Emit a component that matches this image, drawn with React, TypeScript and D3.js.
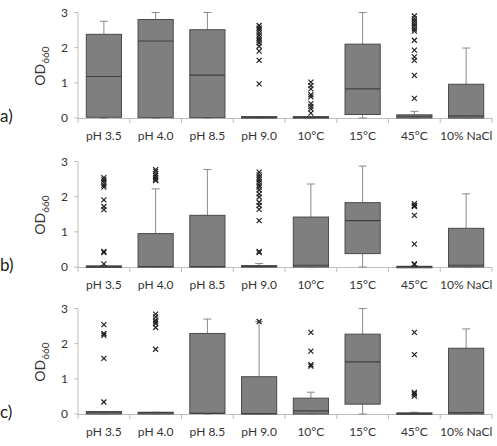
import * as d3 from "d3";

const categories = ["pH 3.5", "pH 4.0", "pH 8.5", "pH 9.0", "10°C", "15°C", "45°C", "10% NaCl"];
const panelNames = ["a)", "b)", "c)"];
const yTicks = [0, 1, 2, 3];

// panel a
const aLow = [0, 0, 0, 0, 0, 0, 0, 0];
const aQ1 = [0.02, 0.01, 0.01, 0, 0, 0.1, 0, 0];
const aMedian = [1.18, 2.19, 1.22, 0.02, 0.02, 0.83, 0.05, 0.06];
const aQ3 = [2.38, 2.8, 2.51, 0.04, 0.04, 2.1, 0.09, 0.96];
const aHigh = [2.75, 3.0, 3.0, 0.04, 0.04, 3.0, 0.19, 1.99];
const aOut = [
  [],
  [],
  [],
  [2.63, 2.56, 2.5, 2.42, 2.35, 2.28, 2.21, 2.14, 2.04, 1.9, 1.64, 0.97],
  [1.02, 0.92, 0.83, 0.66, 0.6, 0.41, 0.33, 0.26, 0.14],
  [],
  [2.9, 2.82, 2.75, 2.68, 2.61, 2.53, 2.47, 2.21, 1.93, 1.74, 1.64, 1.21, 0.56],
  [],
];

// panel b
const bLow = [0, 0, 0, 0, 0, 0, 0, 0];
const bQ1 = [0, 0, 0, 0, 0, 0.38, 0, 0];
const bMedian = [0.02, 0.01, 0.01, 0.02, 0.05, 1.32, 0.01, 0.05];
const bQ3 = [0.03, 0.95, 1.47, 0.04, 1.42, 1.83, 0.02, 1.1];
const bHigh = [0.03, 2.22, 2.77, 0.1, 2.36, 2.87, 0.02, 2.08];
const bOut = [
  [2.54, 2.48, 2.41, 2.33, 2.27, 1.91, 1.72, 1.63, 0.44, 0.41, 0.09],
  [2.77, 2.72, 2.65, 2.6, 2.55, 2.5, 2.46],
  [],
  [2.7, 2.62, 2.55, 2.48, 2.41, 2.33, 2.27, 2.19, 2.08, 1.99, 1.84, 1.75, 1.64, 1.32, 0.44, 0.41],
  [],
  [],
  [1.8, 1.75, 1.72, 1.47, 0.65, 0.09, 0.07],
  [],
];

// panel c
const cLow = [0, 0, 0, 0, 0, 0, 0, 0];
const cQ1 = [0, 0, 0.02, 0, 0, 0.28, 0, 0];
const cMedian = [0.05, 0.04, 0.02, 0.01, 0.09, 1.48, 0.02, 0.04];
const cQ3 = [0.07, 0.05, 2.29, 1.06, 0.45, 2.27, 0.03, 1.87];
const cHigh = [0.07, 0.05, 2.7, 2.63, 0.62, 3.0, 0.05, 2.42];
const cOut = [
  [2.54, 2.29, 2.24, 1.58, 0.34],
  [2.84, 2.76, 2.67, 2.62, 2.57, 2.46, 1.84],
  [],
  [2.63],
  [2.32, 1.79, 1.4, 1.36],
  [],
  [2.32, 1.69, 0.61, 0.57, 0.51],
  [],
];

const panels = [
  { low: aLow, q1: aQ1, med: aMedian, q3: aQ3, high: aHigh, out: aOut },
  { low: bLow, q1: bQ1, med: bMedian, q3: bQ3, high: bHigh, out: bOut },
  { low: cLow, q1: cQ1, med: cMedian, q3: cQ3, high: cHigh, out: cOut },
];

const width = 497;
const height = 446;
const baseY = [118, 267, 414];
const font = "Lato, 'Open Sans', sans-serif";

function Panel({ idx }: { idx: number }) {
  const p = panels[idx];
  const y0 = baseY[idx];
  const x = d3.scaleBand().domain(categories).range([78, 492]).paddingInner(0).paddingOuter(0);
  const y = d3.scaleLinear().domain([0, 3]).range([y0, y0 - 105.5]);
  const bw = x.bandwidth() * 0.68;
  const boundaries = d3.range(categories.length + 1).map((i) => 78 + i * x.step());
  return (
    <g>
      <text x={0} y={y0 + 4} fontSize={17} fill="#222" fontFamily={font}>{panelNames[idx]}</text>
      <text transform={`translate(45,${y0 - 52}) rotate(-90)`} textAnchor="middle" fontSize={14} fill="#333" fontFamily={font}>
        OD<tspan fontSize={10} dy={4}>660</tspan>
      </text>
      <line x1={78} x2={78} y1={y(3)} y2={y0} stroke="#bdbdbd" />
      <line x1={78} x2={492} y1={y0 + 0.5} y2={y0 + 0.5} stroke="#bdbdbd" />
      {yTicks.map((t) => (
        <g key={t}>
          <line x1={74} x2={78} y1={y(t)} y2={y(t)} stroke="#bdbdbd" />
          <text x={68} y={y(t)} dy="0.35em" textAnchor="end" fontSize={12} fill="#333" fontFamily={font}>{t}</text>
        </g>
      ))}
      {boundaries.map((b, i) => (
        <line key={i} x1={b} x2={b} y1={y0} y2={y0 + 5} stroke="#bdbdbd" />
      ))}
      {categories.map((c, i) => {
        const cx = (x(c) as number) + x.bandwidth() / 2;
        return (
          <g key={c}>
            <text x={cx} y={y0 + 22} textAnchor="middle" fontSize={12} fill="#333" fontFamily={font}>{c}</text>
            <line x1={cx} x2={cx} y1={y(p.q3[i])} y2={y(p.high[i])} stroke="#8a8a8a" />
            <line x1={cx - 4} x2={cx + 4} y1={y(p.high[i])} y2={y(p.high[i])} stroke="#8a8a8a" />
            <line x1={cx} x2={cx} y1={y(p.q1[i])} y2={y(p.low[i])} stroke="#8a8a8a" />
            <line x1={cx - 4} x2={cx + 4} y1={y(p.low[i])} y2={y(p.low[i])} stroke="#8a8a8a" />
            <rect x={cx - bw / 2} y={y(p.q3[i])} width={bw} height={Math.max(1.5, y(p.q1[i]) - y(p.q3[i]))} fill="#7f7f7f" stroke="#4a4a4a" strokeWidth={1} />
            <line x1={cx - bw / 2} x2={cx + bw / 2} y1={y(p.med[i])} y2={y(p.med[i])} stroke="#404040" strokeWidth={1.2} />
            {p.out[i].map((v, k) => (
              <path key={k} d={`M${cx - 2.5},${y(v) - 2.5}L${cx + 2.5},${y(v) + 2.5}M${cx - 2.5},${y(v) + 2.5}L${cx + 2.5},${y(v) - 2.5}`} stroke="#222" strokeWidth={1.2} fill="none" />
            ))}
          </g>
        );
      })}
    </g>
  );
}

export default function App() {
  return (
    <div style={{ position: "fixed", left: 0, top: 0 }}>
      <svg width={width} height={height} style={{ display: "block", background: "#fff" }}>
        {panels.map((_, i) => (
          <Panel key={i} idx={i} />
        ))}
      </svg>
    </div>
  );
}
